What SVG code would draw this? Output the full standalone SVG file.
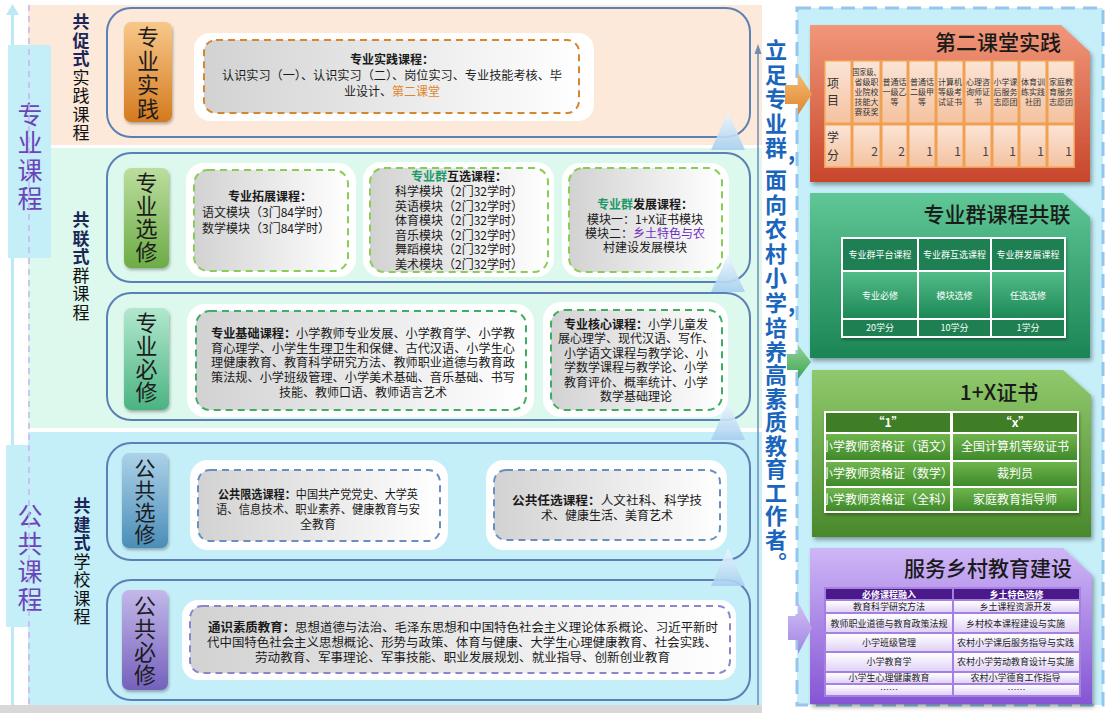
<svg xmlns="http://www.w3.org/2000/svg" width="1108" height="713" viewBox="0 0 1108 713">
<defs>
<linearGradient id="gOr" x1="0" y1="0" x2="0" y2="1"><stop offset="0" stop-color="#F8C88A"/><stop offset="1" stop-color="#D47A1E"/></linearGradient>
<linearGradient id="gGr1" x1="0" y1="0" x2="0" y2="1"><stop offset="0" stop-color="#BCDE9E"/><stop offset="1" stop-color="#6CAC45"/></linearGradient>
<linearGradient id="gTeal" x1="0" y1="0" x2="0" y2="1"><stop offset="0" stop-color="#B2E8CF"/><stop offset="1" stop-color="#4BB382"/></linearGradient>
<linearGradient id="gBl" x1="0" y1="0" x2="0" y2="1"><stop offset="0" stop-color="#ACD2E9"/><stop offset="1" stop-color="#4B8DB7"/></linearGradient>
<linearGradient id="gPu" x1="0" y1="0" x2="0" y2="1"><stop offset="0" stop-color="#C3B8EA"/><stop offset="1" stop-color="#7461BC"/></linearGradient>
<linearGradient id="gGray" x1="0" y1="0" x2="1" y2="0"><stop offset="0" stop-color="#D2D2D2"/><stop offset="1" stop-color="#FFFFFF"/></linearGradient>
<linearGradient id="gP1" x1="0" y1="0" x2="0" y2="1"><stop offset="0" stop-color="#F1977A"/><stop offset="1" stop-color="#C8462B"/></linearGradient>
<linearGradient id="gP2" x1="0" y1="0" x2="0" y2="1"><stop offset="0" stop-color="#60C796"/><stop offset="1" stop-color="#1A8555"/></linearGradient>
<linearGradient id="gP3" x1="0" y1="0" x2="0" y2="1"><stop offset="0" stop-color="#8FC96C"/><stop offset="1" stop-color="#4A882B"/></linearGradient>
<linearGradient id="gP4" x1="0" y1="0" x2="0" y2="1"><stop offset="0" stop-color="#CFB6F6"/><stop offset="1" stop-color="#8555D4"/></linearGradient>
<linearGradient id="gC1" x1="0" y1="0" x2="0" y2="1"><stop offset="0" stop-color="#FBE4D5"/><stop offset="1" stop-color="#F4C2A0"/></linearGradient>
<linearGradient id="gC2" x1="0" y1="0" x2="0" y2="1"><stop offset="0" stop-color="#52BC88"/><stop offset="1" stop-color="#1D8957"/></linearGradient>
<linearGradient id="gC3" x1="0" y1="0" x2="0" y2="1"><stop offset="0" stop-color="#6FB54D"/><stop offset="1" stop-color="#3E892A"/></linearGradient>
<linearGradient id="gC4" x1="0" y1="0" x2="0" y2="1"><stop offset="0" stop-color="#FFFFFF"/><stop offset="1" stop-color="#E0D2F6"/></linearGradient>
<linearGradient id="gTri" x1="0" y1="0" x2="0" y2="1"><stop offset="0" stop-color="#EEF7FD"/><stop offset="1" stop-color="#A6CFF0"/></linearGradient>
<linearGradient id="gArO" x1="0" y1="0" x2="0" y2="1"><stop offset="0" stop-color="#F7BC72"/><stop offset="1" stop-color="#DD8630"/></linearGradient>
<linearGradient id="gArG" x1="0" y1="0" x2="0" y2="1"><stop offset="0" stop-color="#93D48E"/><stop offset="1" stop-color="#3DA35A"/></linearGradient>
<linearGradient id="gArP" x1="0" y1="0" x2="0" y2="1"><stop offset="0" stop-color="#D2C0F6"/><stop offset="1" stop-color="#A084E4"/></linearGradient>
<filter id="sh" x="-10%" y="-10%" width="120%" height="125%"><feDropShadow dx="2" dy="3" stdDeviation="2" flood-color="#000" flood-opacity="0.35"/></filter>
<filter id="sh2" x="-10%" y="-10%" width="120%" height="125%"><feDropShadow dx="1" dy="2" stdDeviation="1.5" flood-color="#000" flood-opacity="0.3"/></filter>
<clipPath id="clX"><rect x="826" y="413" width="124" height="98"/></clipPath>
</defs>
<style>
text{font-family:"Noto Sans CJK SC","Noto Sans",sans-serif}
.v{writing-mode:vertical-rl;text-anchor:start}
.box{fill:none;stroke:#5B80B6;stroke-width:2}
.wb{fill:#fff}
.lb{font-size:22px;fill:#1c1c1c;letter-spacing:1px}
.t{font-size:12px;fill:#1a1a1a;text-anchor:middle}
.ts{font-size:12px;fill:#1a1a1a}
.b{font-weight:bold}
.vt{font-size:17px;fill:#111;letter-spacing:1.5px}
.vb{font-weight:bold;fill:#1C2657}
.dO{fill:url(#gGray);stroke:#D6862E;stroke-width:2;stroke-dasharray:7 5}
.dG{fill:url(#gGray);stroke:#86CE55;stroke-width:2;stroke-dasharray:7 5}
.dG2{fill:url(#gGray);stroke:#3FAE62;stroke-width:2;stroke-dasharray:7 5}
.dB{fill:url(#gGray);stroke:#6B8EC2;stroke-width:2;stroke-dasharray:7 5}
.dP{fill:url(#gGray);stroke:#8A86CC;stroke-width:2;stroke-dasharray:7 5}
.ptitle{font-size:21px;fill:#1a1a1a;text-anchor:middle;font-weight:500}
.h8{font-size:8px;fill:#333;text-anchor:middle}
.w9{font-size:9px;fill:#fff;text-anchor:middle}
.w12{font-size:12px;fill:#fff;text-anchor:middle}
.p9{font-size:9px;fill:#222;text-anchor:middle}
.mid{font-size:22px;font-weight:bold;fill:#1A66BD}
.side{font-size:25px;fill:#6B45B8;letter-spacing:3px}
</style>

<!-- backgrounds -->
<rect x="0" y="0" width="1108" height="713" fill="#fff"/>
<rect x="28" y="5" width="734" height="140" fill="#FCE9D9"/>
<rect x="28" y="148" width="734" height="280" fill="#DDF8EC"/>
<rect x="28" y="432" width="734" height="273" fill="#C4EEF8"/>
<rect x="0" y="705" width="762" height="8" fill="#D8D8D8"/>

<!-- left side column -->
<g id="side-zhuanye">
<rect x="11" y="14" width="3" height="691" fill="#BDE8F5"/>
<polygon points="12.5,4 6,15 19,15" fill="#BDE8F5"/>
<rect x="8" y="45" width="43" height="213" fill="#C4EEF8"/>
<text class="side v" x="30" y="102">专业课程</text>
</g>
<g id="side-gonggong">
<rect x="6" y="445" width="45" height="182" fill="#C4EEF8"/>
<text class="side v" x="30" y="503">公共课程</text>
</g>
<line x1="29" y1="5" x2="29" y2="705" stroke="#C9B3F0" stroke-width="1.5" stroke-dasharray="6 5"/>

<!-- vertical mode labels -->
<g id="mode1"><text class="vt v" x="81" y="13.5"><tspan class="vb">共促式</tspan>实践课程</text></g>
<g id="mode2"><text class="vt v" x="81" y="211.5"><tspan class="vb">共联式</tspan>群课程</text></g>
<g id="mode3"><text class="vt v" x="82" y="497.5"><tspan class="vb">共建式</tspan>学校课程</text></g>

<!-- Row 1: 专业实践 -->
<g id="row-shijian">
<rect class="box" x="107" y="8" width="643" height="129" rx="24"/>
<rect x="124" y="22" width="48" height="100" rx="7" fill="url(#gOr)" filter="url(#sh2)"/>
<text class="lb v" x="148" y="26" style="letter-spacing:2px">专业实践</text>
<rect class="wb" x="194" y="33" width="400" height="88" rx="16"/>
<rect class="dO" x="204" y="40" width="375" height="73" rx="12"/>
<text class="t b" x="392" y="64">专业实践课程：</text>
<text class="t" x="392" y="80" textLength="340" lengthAdjust="spacingAndGlyphs">认识实习（一）、认识实习（二）、岗位实习、专业技能考核、毕</text>
<text class="t" x="392" y="96">业设计、<tspan fill="#E0862C">第二课堂</tspan></text>
</g>

<!-- Row 2: 专业选修 -->
<g id="row-xuanxiu">
<rect class="box" x="107" y="153" width="643" height="129" rx="24"/>
<rect x="124" y="168" width="45" height="100" rx="7" fill="url(#gGr1)" filter="url(#sh2)"/>
<text class="lb v" x="146.5" y="172">专业选修</text>
<rect class="wb" x="186" y="163" width="170" height="114" rx="18"/>
<rect class="dG" x="194" y="170" width="154" height="101" rx="14"/>
<text class="t b" x="270" y="201">专业拓展课程：</text>
<text class="t" x="266" y="217">语文模块（3门84学时）</text>
<text class="t" x="266" y="233">数学模块（3门84学时）</text>
<rect class="wb" x="363" y="162" width="191" height="115" rx="18"/>
<rect class="dG" x="370" y="168" width="178" height="104" rx="14"/>
<text class="t b" x="459" y="181"><tspan fill="#1E9A6A">专业群</tspan>互选课程：</text>
<text class="t" x="459" y="196">科学模块（2门32学时）</text>
<text class="t" x="459" y="210.5">英语模块（2门32学时）</text>
<text class="t" x="459" y="225">体育模块（2门32学时）</text>
<text class="t" x="459" y="239.5">音乐模块（2门32学时）</text>
<text class="t" x="459" y="254">舞蹈模块（2门32学时）</text>
<text class="t" x="459" y="268.5">美术模块（2门32学时）</text>
<rect class="wb" x="562" y="163" width="167" height="114" rx="18"/>
<rect class="dG" x="569" y="168" width="153" height="104" rx="14"/>
<text class="t b" x="645" y="209"><tspan fill="#1E9A6A">专业群</tspan>发展课程：</text>
<text class="t" x="645" y="224">模块一：1+X证书模块</text>
<text class="t" x="645" y="238">模块二：<tspan fill="#7030C0">乡土特色与农</tspan></text>
<text class="t" x="645" y="252" fill="#7030C0">村建设发展模块</text>
</g>

<!-- Row 3: 专业必修 -->
<g id="row-bixiu">
<rect class="box" x="107" y="293" width="643" height="127" rx="24"/>
<rect x="124" y="308" width="45" height="102" rx="7" fill="url(#gTeal)" filter="url(#sh2)"/>
<text class="lb v" x="146.5" y="312">专业必修</text>
<rect class="wb" x="187" y="304" width="347" height="113" rx="18"/>
<rect class="dG2" x="196" y="311" width="330" height="99" rx="14"/>
<text class="ts" x="211" y="338" textLength="304" lengthAdjust="spacingAndGlyphs"><tspan class="b">专业基础课程：</tspan>小学教师专业发展、小学教育学、小学教</text>
<text class="ts" x="211" y="352.7" textLength="304" lengthAdjust="spacingAndGlyphs">育心理学、小学生生理卫生和保健、古代汉语、小学生心</text>
<text class="ts" x="211" y="367.4" textLength="304" lengthAdjust="spacingAndGlyphs">理健康教育、教育科学研究方法、教师职业道德与教育政</text>
<text class="ts" x="211" y="382.1" textLength="304" lengthAdjust="spacingAndGlyphs">策法规、小学班级管理、小学美术基础、音乐基础、书写</text>
<text class="t" x="363" y="396.8">技能、教师口语、教师语言艺术</text>
<rect class="wb" x="543" y="302" width="185" height="115" rx="18"/>
<rect class="dG2" x="551" y="310" width="171" height="100" rx="14"/>
<text class="t" x="636" y="329"><tspan class="b">专业核心课程：</tspan>小学儿童发</text>
<text class="t" x="636" y="343.4">展心理学、现代汉语、写作、</text>
<text class="t" x="636" y="357.8">小学语文课程与教学论、小</text>
<text class="t" x="636" y="372.2">学数学课程与教学论、小学</text>
<text class="t" x="636" y="386.6">教育评价、概率统计、小学</text>
<text class="t" x="636" y="401">数学基础理论</text>
</g>

<!-- Row 4: 公共选修 -->
<g id="row-ggxuanxiu">
<rect class="box" x="107" y="443" width="643" height="117" rx="24"/>
<rect x="122" y="453" width="46" height="95" rx="7" fill="url(#gBl)" filter="url(#sh2)"/>
<text class="lb v" x="145" y="458" style="font-size:21px">公共选修</text>
<rect class="wb" x="190" y="460" width="258" height="90" rx="18"/>
<rect class="dB" x="198" y="470" width="242" height="71" rx="12"/>
<text class="ts" x="218" y="498.5" textLength="200" lengthAdjust="spacingAndGlyphs"><tspan class="b">公共限选课程：</tspan>中国共产党党史、大学英</text>
<text class="ts" x="216" y="513.5" textLength="204" lengthAdjust="spacingAndGlyphs">语、信息技术、职业素养、健康教育与安</text>
<text class="t" x="318" y="528.5">全教育</text>
<rect class="wb" x="486" y="460" width="241" height="90" rx="18"/>
<rect class="dB" x="494" y="470" width="226" height="70" rx="12"/>
<text class="ts" x="512" y="504.5" textLength="190" lengthAdjust="spacingAndGlyphs"><tspan class="b">公共任选课程：</tspan>人文社科、科学技</text>
<text class="t" x="607" y="519.5">术、健康生活、美育艺术</text>
</g>

<!-- Row 5: 公共必修 -->
<g id="row-ggbixiu">
<rect class="box" x="107" y="580" width="643" height="120" rx="24"/>
<rect x="122" y="590" width="46" height="100" rx="7" fill="url(#gPu)" filter="url(#sh2)"/>
<text class="lb v" x="145" y="595">公共必修</text>
<rect class="wb" x="182" y="600" width="554" height="80" rx="16"/>
<rect class="dP" x="190" y="606" width="540" height="67" rx="12"/>
<text class="ts" x="208" y="631.5" textLength="510" lengthAdjust="spacingAndGlyphs"><tspan class="b">通识素质教育：</tspan>思想道德与法治、毛泽东思想和中国特色社会主义理论体系概论、习近平新时</text>
<text class="ts" x="207" y="646.5" textLength="510" lengthAdjust="spacingAndGlyphs">代中国特色社会主义思想概论、形势与政策、体育与健康、大学生心理健康教育、社会实践、</text>
<text class="ts" x="255" y="661.5" textLength="415" lengthAdjust="spacingAndGlyphs">劳动教育、军事理论、军事技能、职业发展规划、就业指导、创新创业教育</text>
</g>

<!-- middle statement -->
<g id="statement">
<text class="mid v" x="776" y="39" style="letter-spacing:2.5px">立足专业群</text>
<text class="mid" x="788" y="160">,</text>
<text class="mid v" x="776" y="169" style="letter-spacing:2.5px">面向农村小学</text>
<text class="mid" x="788" y="312">,</text>
<text class="mid v" x="776" y="317" style="letter-spacing:1.5px">培养高素质教育工作者。</text>
</g>

<!-- right column container -->
<rect x="797" y="8" width="306" height="697" fill="#C6EFF9" stroke="#94C6EE" stroke-width="3" stroke-dasharray="14 8"/>

<!-- Panel 1 -->
<g id="panel-dierketang">
<polygon points="810,25 1061,25 1090,52 1090,182 810,182" fill="url(#gP1)" filter="url(#sh)"/>
<text class="ptitle" x="998" y="50">第二课堂实践</text>
<rect x="824" y="60" width="251" height="108" fill="#F0A050"/>
<g fill="url(#gC1)">
<rect x="825.5" y="61.5" width="25" height="61"/><rect x="853.5" y="61.5" width="26" height="61"/><rect x="882.5" y="61.5" width="24" height="61"/><rect x="909.5" y="61.5" width="25" height="61"/><rect x="937.5" y="61.5" width="25" height="61"/><rect x="965.5" y="61.5" width="25" height="61"/><rect x="993.5" y="61.5" width="24" height="61"/><rect x="1020.5" y="61.5" width="25" height="61"/><rect x="1048.5" y="61.5" width="25" height="61"/>
<rect x="825.5" y="125.5" width="25" height="41"/><rect x="853.5" y="125.5" width="26" height="41"/><rect x="882.5" y="125.5" width="24" height="41"/><rect x="909.5" y="125.5" width="25" height="41"/><rect x="937.5" y="125.5" width="25" height="41"/><rect x="965.5" y="125.5" width="25" height="41"/><rect x="993.5" y="125.5" width="24" height="41"/><rect x="1020.5" y="125.5" width="25" height="41"/><rect x="1048.5" y="125.5" width="25" height="41"/>
</g>
<text font-size="12" fill="#333"><tspan x="827" y="88">项</tspan><tspan x="827" y="105">目</tspan><tspan x="827" y="142">学</tspan><tspan x="827" y="160">分</tspan></text>
<text class="h8"><tspan x="866.5" y="75" textLength="28" lengthAdjust="spacingAndGlyphs">国家级、</tspan><tspan x="866.5" y="85">省级职</tspan><tspan x="866.5" y="95">业院校</tspan><tspan x="866.5" y="105">技能大</tspan><tspan x="866.5" y="115">赛获奖</tspan></text>
<text class="h8"><tspan x="894.5" y="85">普通话</tspan><tspan x="894.5" y="95">一级乙</tspan><tspan x="894.5" y="105">等</tspan></text>
<text class="h8"><tspan x="922" y="85">普通话</tspan><tspan x="922" y="95">二级甲</tspan><tspan x="922" y="105">等</tspan></text>
<text class="h8"><tspan x="950" y="85">计算机</tspan><tspan x="950" y="95">等级考</tspan><tspan x="950" y="105">试证书</tspan></text>
<text class="h8"><tspan x="978" y="85">心理咨</tspan><tspan x="978" y="95">询师证</tspan><tspan x="978" y="105">书</tspan></text>
<text class="h8"><tspan x="1005.5" y="85">小学课</tspan><tspan x="1005.5" y="95">后服务</tspan><tspan x="1005.5" y="105">志愿团</tspan></text>
<text class="h8"><tspan x="1033" y="85">体育训</tspan><tspan x="1033" y="95">练实践</tspan><tspan x="1033" y="105">社团</tspan></text>
<text class="h8"><tspan x="1061" y="85">家庭教</tspan><tspan x="1061" y="95">育服务</tspan><tspan x="1061" y="105">志愿团</tspan></text>
<text font-size="12" fill="#444" text-anchor="end"><tspan x="878" y="156">2</tspan><tspan x="905" y="156">2</tspan><tspan x="933" y="156">1</tspan><tspan x="961" y="156">1</tspan><tspan x="989" y="156">1</tspan><tspan x="1016" y="156">1</tspan><tspan x="1044" y="156">1</tspan><tspan x="1072" y="156">1</tspan></text>
</g>

<!-- Panel 2 -->
<g id="panel-gonglian">
<polygon points="810,193 1063,193 1090,217 1090,358 810,358" fill="url(#gP2)" filter="url(#sh)"/>
<text class="ptitle" x="997" y="222">专业群课程共联</text>
<rect x="841" y="237" width="225" height="101" fill="#fff" filter="url(#sh2)"/>
<g fill="#1D7F52"><rect x="843" y="239" width="74" height="31"/><rect x="919" y="239" width="71" height="31"/><rect x="992" y="239" width="72" height="31"/>
<rect x="843" y="320" width="74" height="16"/><rect x="919" y="320" width="71" height="16"/><rect x="992" y="320" width="72" height="16"/></g>
<g fill="url(#gC2)"><rect x="843" y="272" width="74" height="46"/><rect x="919" y="272" width="71" height="46"/><rect x="992" y="272" width="72" height="46"/></g>
<text class="w9"><tspan x="880" y="258">专业群平台课程</tspan><tspan x="954.5" y="258">专业群互选课程</tspan><tspan x="1028" y="258">专业群发展课程</tspan></text>
<text class="w9"><tspan x="880" y="299">专业必修</tspan><tspan x="954.5" y="299">模块选修</tspan><tspan x="1028" y="299">任选选修</tspan></text>
<text class="w9"><tspan x="880" y="331">20学分</tspan><tspan x="954.5" y="331">10学分</tspan><tspan x="1028" y="331">1学分</tspan></text>
</g>

<!-- Panel 3 -->
<g id="panel-1x">
<polygon points="812,370 1063,370 1091,395 1091,537 812,537" fill="url(#gP3)" filter="url(#sh)"/>
<text class="ptitle" x="999" y="400">1+X证书</text>
<rect x="824" y="411" width="255" height="102" fill="#fff" filter="url(#sh2)"/>
<g fill="#3F7D26"><rect x="826" y="413" width="124" height="19"/><rect x="953" y="413" width="124" height="19"/></g>
<g fill="url(#gC3)"><rect x="826" y="434" width="124" height="26"/><rect x="953" y="434" width="124" height="26"/><rect x="826" y="462" width="124" height="24"/><rect x="953" y="462" width="124" height="24"/><rect x="826" y="488" width="124" height="23"/><rect x="953" y="488" width="124" height="23"/></g>
<text class="w12 b" font-size="11"><tspan x="888" y="427">“1”</tspan><tspan x="1015" y="427">“x”</tspan></text>
<g clip-path="url(#clX)"><text class="w12" font-size="11.5"><tspan x="887" y="451">小学教师资格证（语文）</tspan><tspan x="887" y="478">小学教师资格证（数学）</tspan><tspan x="887" y="504">小学教师资格证（全科）</tspan></text></g>
<text class="w12"><tspan x="1015" y="451">全国计算机等级证书</tspan><tspan x="1015" y="478">裁判员</tspan><tspan x="1015" y="504">家庭教育指导师</tspan></text>
</g>

<!-- Panel 4 -->
<g id="panel-fuwu">
<polygon points="810,548 1063,548 1092,575 1092,704 810,704" fill="url(#gP4)" filter="url(#sh)"/>
<text class="ptitle" x="988" y="576">服务乡村教育建设</text>
<rect x="824" y="587" width="257" height="110" fill="#A57FE2"/>
<g fill="#4A1A8A"><rect x="826" y="589" width="126" height="10"/><rect x="954" y="589" width="125" height="10"/></g>
<g fill="url(#gC4)">
<rect x="826" y="601" width="126" height="11"/><rect x="954" y="601" width="125" height="11"/>
<rect x="826" y="614" width="126" height="18"/><rect x="954" y="614" width="125" height="18"/>
<rect x="826" y="634" width="126" height="17"/><rect x="954" y="634" width="125" height="17"/>
<rect x="826" y="653" width="126" height="18"/><rect x="954" y="653" width="125" height="18"/>
<rect x="826" y="673" width="126" height="10"/><rect x="954" y="673" width="125" height="10"/>
<rect x="826" y="685" width="126" height="10"/><rect x="954" y="685" width="125" height="10"/>
</g>
<text class="w9 b" font-size="8.5"><tspan x="889" y="597.5">必修课程融入</tspan><tspan x="1016.5" y="597.5">乡土特色选修</tspan></text>
<text class="p9"><tspan x="889" y="610">教育科学研究方法</tspan><tspan x="1016.5" y="610">乡土课程资源开发</tspan>
<tspan x="889" y="626.5">教师职业道德与教育政策法规</tspan><tspan x="1016.5" y="626.5">乡村校本课程建设与实施</tspan>
<tspan x="889" y="645.5">小学班级管理</tspan><tspan x="1016.5" y="645.5">农村小学课后服务指导与实践</tspan>
<tspan x="889" y="665">小学教育学</tspan><tspan x="1016.5" y="665">农村小学劳动教育设计与实施</tspan>
<tspan x="889" y="681">小学生心理健康教育</tspan><tspan x="1016.5" y="681">农村小学德育工作指导</tspan>
<tspan x="889" y="693">……</tspan><tspan x="1016.5" y="693">……</tspan></text>
</g>

<!-- connectors -->
<g id="connectors">
<g fill="url(#gTri)" opacity="0.9">
<polygon points="728,112 745,150 711,150"/>
<polygon points="728,255 745,292 711,292"/>
<polygon points="728,402 745,440 711,440"/>
<polygon points="728,548 745,586 711,586"/>
</g>
<line x1="758" y1="52" x2="758" y2="705" stroke="#6D8DB5" stroke-width="1.5"/>
<polygon points="758,44 754.5,54 761.5,54" fill="#6D8DB5"/>
<polygon points="785,85 798,85 798,73 812,94 798,115 798,104 785,104" fill="url(#gArO)"/>
<polygon points="787,354 798,354 798,345 811,362 798,379 798,370 787,370" fill="url(#gArG)"/>
<polygon points="788,616 798,616 798,602 812,628 798,654 798,640 788,640" fill="url(#gArP)"/>
</g>
</svg>
